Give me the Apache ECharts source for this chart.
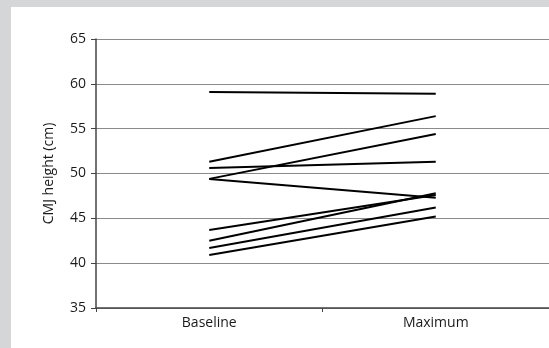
<!DOCTYPE html>
<html>
<head>
<meta charset="utf-8">
<script src="https://cdn.jsdelivr.net/npm/echarts@6/dist/echarts.min.js"></script>
<style>
html,body{margin:0;padding:0;background:#d5d6d8;}
#chart{width:549px;height:348px;}
</style>
</head>
<body>
<div id="chart"></div>
<script>
var categories = ['Baseline', 'Maximum'];
var baseline = [59.1, 51.3, 49.4, 50.6, 49.4, 43.7, 42.5, 41.7, 40.9];
var maximum  = [58.9, 56.4, 54.4, 51.3, 47.3, 47.6, 47.8, 46.2, 45.2];
var yTicks = [35, 40, 45, 50, 55, 60, 65];
var yName = 'CMJ height (cm)';

var font = '"Open Sans", "Liberation Sans", sans-serif';
var series = baseline.map(function (b, i) {
  return {
    type: 'line',
    data: [b, maximum[i]],
    symbol: 'none',
    lineStyle: { color: '#000', width: 2 },
    z: 5,
    silent: true
  };
});

var chart = echarts.init(document.getElementById('chart'));
chart.setOption({
  animation: false,
  backgroundColor: 'transparent',
  graphic: [{
    type: 'rect', z: -10, silent: true,
    shape: { x: 11, y: 7, width: 540, height: 345 },
    style: { fill: '#ffffff' }
  }],
  grid: { left: 96, top: 39, width: 455, height: 269 },
  xAxis: {
    type: 'category',
    data: categories,
    boundaryGap: true,
    axisLine: { lineStyle: { color: '#444', width: 1.5 } },
    axisTick: { show: true, length: 4, lineStyle: { color: '#444' } },
    axisLabel: { color: '#1a1a1a', fontSize: 14, fontFamily: font, margin: 8 }
  },
  yAxis: {
    type: 'value',
    min: yTicks[0],
    max: yTicks[yTicks.length - 1],
    interval: 5,
    name: yName,
    nameLocation: 'middle',
    nameGap: 40,
    nameTextStyle: { color: '#1a1a1a', fontSize: 14, fontFamily: font },
    axisLine: { show: true, lineStyle: { color: '#444', width: 1.5 } },
    axisTick: { show: true, length: 5, lineStyle: { color: '#444' } },
    axisLabel: { color: '#1a1a1a', fontSize: 14, fontFamily: font, margin: 10 },
    splitLine: { show: true, lineStyle: { color: '#8a8a8a', width: 1 } }
  },
  series: series
});
</script>
</body>
</html>
